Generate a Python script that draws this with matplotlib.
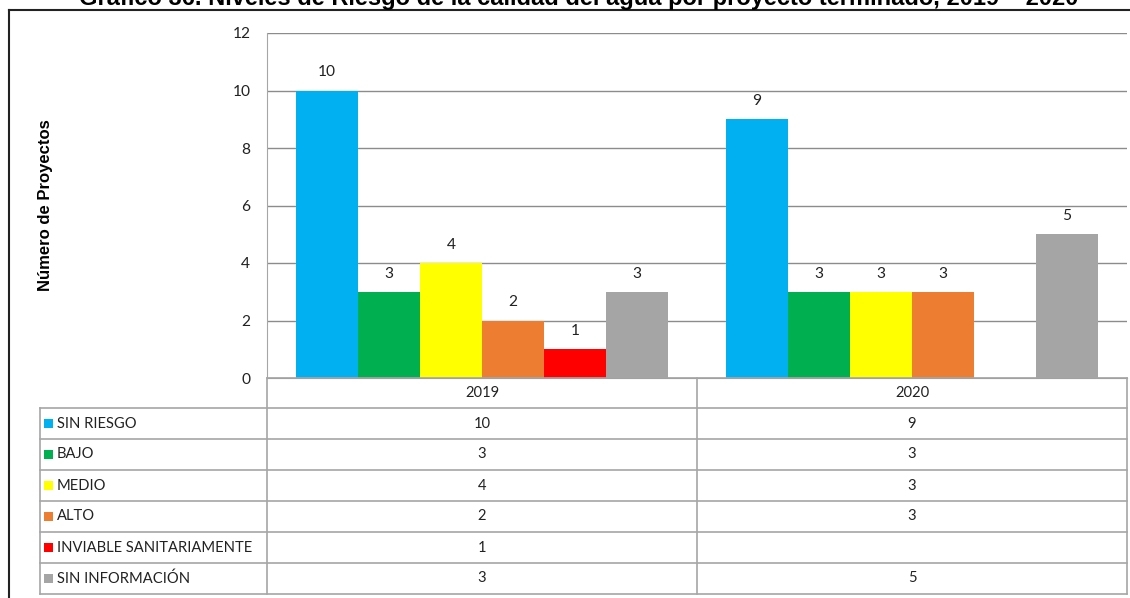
import numpy as np
import matplotlib
matplotlib.use("Agg")
import matplotlib.pyplot as plt
from matplotlib.patches import Rectangle

# data
years = ["2019", "2020"]
levels = ["SIN RIESGO", "BAJO", "MEDIO", "ALTO",
          "INVIABLE SANITARIAMENTE", "SIN INFORMACIÓN"]
counts_2019 = [10, 3, 4, 2, 1, 3]
counts_2020 = [9, 3, 3, 3, np.nan, 5]
level_colors = ["#00B0F0", "#00B050", "#FFFF00", "#ED7D31", "#FF0000", "#A5A5A5"]
yticks = [0, 2, 4, 6, 8, 10, 12]

title = "Gráfico 36. Niveles de Riesgo de la calidad del agua por proyecto terminado, 2019 – 2020"

W, H = 1130, 598
body_font = ["Lato", "DejaVu Sans"]
fs = 10.6
txt_col = "#222222"
grid_col = "#8C8C8C"
table_col = "#A6A6A6"

fig = plt.figure(figsize=(W / 100, H / 100), dpi=100)

# pixel -> figure fraction helpers
def fx(px):
    return px / W

def fy(py):
    return 1 - py / H

plot_l, plot_r, plot_t, plot_b = 267, 1127, 33, 378
ax = fig.add_axes([fx(plot_l), fy(plot_b), fx(plot_r) - fx(plot_l), fy(plot_t) - fy(plot_b)])

series = np.array([counts_2019, counts_2020]).T  # one row per level
n = len(levels)
bw = 62 / 430
x = np.arange(len(years))
for k in range(n):
    xs = x + (k - (n - 1) / 2) * bw
    vals = series[k]
    ax.bar(xs, vals, width=bw, color=level_colors[k], zorder=3, linewidth=0)
    for xi, v in zip(xs, vals):
        if np.isnan(v):
            continue
        ax.annotate(f"{int(v)}", (xi, v), xytext=(0, 8), textcoords="offset points",
                    ha="center", va="bottom", fontsize=fs + 0.6, family=body_font, color=txt_col)

ax.set_xlim(-0.5, len(years) - 0.5)
ax.set_ylim(0, 12)
ax.set_yticks(yticks)
ax.set_yticklabels([str(t) for t in yticks], family=body_font, fontsize=fs + 0.6, color=txt_col)
ax.tick_params(axis="y", length=0, pad=12)
ax.set_xticks([])
ax.grid(axis="y", color=grid_col, linewidth=1, zorder=0)
for side in ["top", "right"]:
    ax.spines[side].set_visible(False)
ax.spines["left"].set_color(table_col)
ax.spines["bottom"].set_color(grid_col)

# overlay in pixel coordinates for the data table and frame
ov = fig.add_axes([0, 0, 1, 1], zorder=5)
ov.set_xlim(0, W)
ov.set_ylim(H, 0)
ov.axis("off")
ov.patch.set_alpha(0)

tab_l, col_mid = 40, 697
hdr_b = 408
row_h = 31
tab_b = hdr_b + row_h * n

line_kw = dict(color=table_col, linewidth=1.2)
ov.plot([plot_l, plot_r], [plot_b, plot_b], **line_kw)
ov.plot([plot_l, plot_l], [plot_b, tab_b], **line_kw)
ov.plot([col_mid, col_mid], [plot_b, tab_b], **line_kw)
ov.plot([plot_r, plot_r], [plot_b, tab_b], **line_kw)
ov.plot([tab_l, tab_l], [hdr_b, tab_b], **line_kw)
for r in range(n + 1):
    yy = hdr_b + r * row_h
    ov.plot([tab_l, plot_r], [yy, yy], **line_kw)

col_centers = [(plot_l + col_mid) / 2, (col_mid + plot_r) / 2]
for c, yr in zip(col_centers, years):
    ov.text(c, (plot_b + hdr_b) / 2, yr, ha="center", va="center",
            fontsize=fs, family=body_font, color=txt_col)

for k in range(n):
    yc = hdr_b + (k + 0.5) * row_h
    ov.add_patch(Rectangle((43.5, yc - 4.5), 9, 9, color=level_colors[k], linewidth=0))
    ov.text(57, yc, levels[k], ha="left", va="center",
            fontsize=fs, family=body_font, color=txt_col)
    for c, v in zip(col_centers, series[k]):
        if not np.isnan(v):
            ov.text(c, yc, f"{int(v)}", ha="center", va="center",
                    fontsize=fs, family=body_font, color=txt_col)

# y label
ov.text(46, 205, "Número de Proyectos", rotation=90, ha="center", va="center",
        fontsize=12, fontweight="bold", family=["Liberation Sans", "DejaVu Sans"])

# outer frame
ov.plot([9, W], [10, 10], color="#222222", linewidth=1.5)
ov.plot([9, 9], [10, H], color="#222222", linewidth=1.5)

# title, partly above the top edge
ov.text(579, 5.5, title, ha="center", va="baseline", fontsize=17, fontweight="bold",
        family=["Liberation Sans", "DejaVu Sans"])

fig.savefig("out.png", dpi=100)
